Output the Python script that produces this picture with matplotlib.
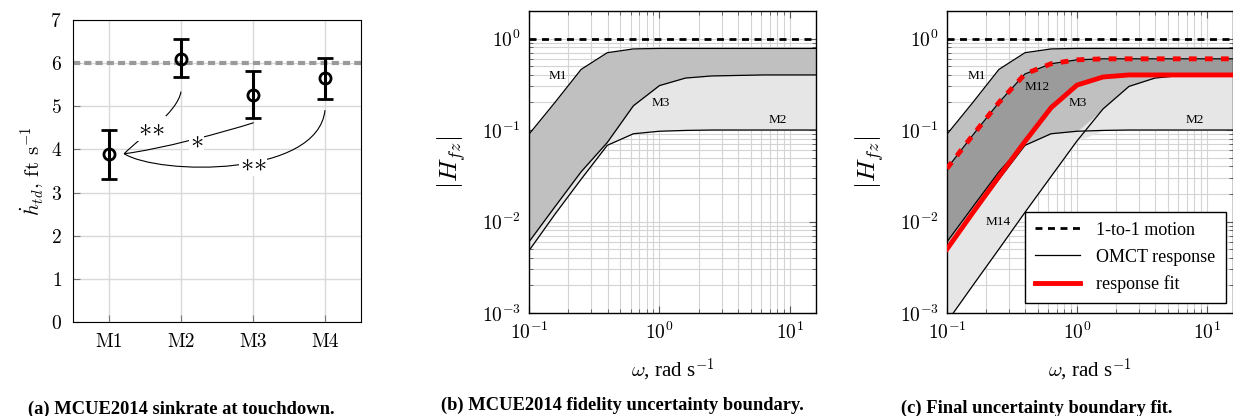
import matplotlib
matplotlib.use('Agg')
import matplotlib.pyplot as plt
import numpy as np
from matplotlib.path import Path
from matplotlib.patches import PathPatch
from matplotlib.ticker import NullFormatter, LogLocator

plt.rcParams['font.family'] = 'serif'
plt.rcParams['font.serif'] = ['cmr10']
plt.rcParams['mathtext.fontset'] = 'cm'
plt.rcParams['axes.formatter.use_mathtext'] = True

# (a) sink rate at touchdown
manoeuvres = ['M1', 'M2', 'M3', 'M4']
sink_mean = [3.9, 6.1, 5.27, 5.65]
sink_lo = [3.32, 5.67, 4.72, 5.17]
sink_hi = [4.46, 6.55, 5.81, 6.12]
sink_limit = 6.0
sig_marks = ['${\\ast}{\\ast}$', '${\\ast}$', '${\\ast}{\\ast}$']

# (b), (c) frequency responses |H_fz|
omega = [0.1, 0.158, 0.251, 0.398, 0.631, 1.0, 1.585, 2.512, 3.981, 6.31, 10.0, 15.85]
m1 = [0.09, 0.2, 0.46, 0.70, 0.77, 0.78, 0.78, 0.78, 0.78, 0.78, 0.78, 0.78]
m2 = [0.0048, 0.012, 0.029, 0.068, 0.091, 0.097, 0.099, 0.1, 0.1, 0.1, 0.1, 0.1]
m3 = [0.006, 0.0145, 0.035, 0.073, 0.184, 0.306, 0.37, 0.39, 0.395, 0.4, 0.4, 0.4]
m12 = [0.038, 0.088, 0.2, 0.41, 0.53, 0.585, 0.6, 0.6, 0.6, 0.6, 0.6, 0.6]
m14 = [0.0008, 0.002, 0.005, 0.0126, 0.031, 0.076, 0.17, 0.30, 0.37, 0.395, 0.4, 0.4]
fit = [0.005, 0.0125, 0.031, 0.075, 0.175, 0.31, 0.38, 0.40, 0.40, 0.40, 0.40, 0.40]
one_to_one = 1.0

W, H = 1233, 416
fig = plt.figure(figsize=(W / 100, H / 100), dpi=100)

LIGHT, MED, DARK = '#e6e6e6', '#c0c0c0', '#9b9b9b'
cap_kw = dict(ha='center', va='center', fontsize=13.3, fontweight='bold', family='Liberation Serif')
lab_kw = dict(ha='center', va='center', fontsize=9.5, family='Liberation Serif')

# ---------- panel a ----------
ax = fig.add_axes([73 / W, (H - 322) / H, 288 / W, 302 / H])
x = np.arange(1, 5)
mean = np.array(sink_mean)
yerr = [mean - np.array(sink_lo), np.array(sink_hi) - mean]
ax.axhline(sink_limit, color='#9a9a9a', lw=3, dashes=(1.7, 1.0), zorder=2)
ax.errorbar(x, mean, yerr=yerr, fmt='o', mfc='none', mec='k', mew=2, ms=8,
            ecolor='k', elinewidth=2.2, capsize=6, capthick=2.2, zorder=4)
ax.set_xlim(0.5, 4.5)
ax.set_ylim(0, 7)
ax.set_xticks(x, manoeuvres)
ax.set_yticks(range(8))
ax.grid(color='#d9d9d9', lw=1)
ax.set_axisbelow(True)
ax.tick_params(direction='in', length=5, color='#777777', labelsize=14, pad=8)
ax.set_ylabel(r'$\dot{h}_{td}$, ft s$^{-1}$', fontsize=15, labelpad=3)

# significance curves from M1 to the others
start = (1.21, 3.9)
curves = [
    [(1.45, 4.3), (1.95, 4.85), (2.0, 5.34)],
    [(1.7, 4.0), (2.6, 4.4), (3.01, 4.62)],
    [(1.7, 3.4), (3.9, 3.35), (4.0, 4.91)],
]
mark_pos = [(1.59, 4.49), (2.22, 4.2), (3.0, 3.68)]
for ctrl, mark, pos in zip(curves, sig_marks, mark_pos):
    p = Path([start] + ctrl, [Path.MOVETO, Path.CURVE4, Path.CURVE4, Path.CURVE4])
    ax.add_patch(PathPatch(p, fc='none', ec='k', lw=0.8, zorder=3))
    ax.text(pos[0], pos[1], mark, ha='center', va='center', fontsize=19, zorder=3,
            bbox=dict(fc='white', ec='none', pad=0.5))
fig.text(181 / W, 1 - 409 / H, '(a) MCUE2014 sinkrate at touchdown.', **cap_kw)


def style_log(ax):
    ax.set_xscale('log')
    ax.set_yscale('log')
    ax.set_xlim(0.1, 15.85)
    ax.set_ylim(1e-3, 2)
    ax.xaxis.set_major_locator(LogLocator(base=10, numticks=10))
    ax.yaxis.set_major_locator(LogLocator(base=10, numticks=10))
    ax.xaxis.set_minor_formatter(NullFormatter())
    ax.yaxis.set_minor_formatter(NullFormatter())
    ax.grid(which='both', color='#d4d4d4', lw=0.8)
    ax.set_axisbelow(True)
    ax.tick_params(which='both', direction='in', top=True, right=True, color='#555555')
    ax.tick_params(which='major', length=5, labelsize=14, pad=6)
    ax.tick_params(which='minor', length=3)
    ax.set_xlabel(r'$\omega$, rad s$^{-1}$', fontsize=15, family='Liberation Serif', labelpad=10)
    ax.set_ylabel(r'$|H_{fz}|$', fontsize=18.5, labelpad=10)
    for s in ax.spines.values():
        s.set_linewidth(1.0)


w = np.array(omega)
a1, a2, a3 = np.array(m1), np.array(m2), np.array(m3)
a12, a14, af = np.array(m12), np.array(m14), np.array(fit)

# ---------- panel b ----------
ax = fig.add_axes([529 / W, (H - 313) / H, 287 / W, 302 / H])
style_log(ax)
ax.fill_between(w, np.minimum(a2, a3), a1, color=LIGHT, lw=0, zorder=1)
ax.fill_between(w, a3, a1, color=MED, lw=0, zorder=1)
for c in (a1, a2, a3):
    ax.plot(w, c, color='k', lw=0.9, zorder=3)
ax.axhline(one_to_one, color='k', lw=2, dashes=(2.5, 2), zorder=4)
ax.text(0.167, 0.385, 'M1', **lab_kw)
ax.text(1.02, 0.195, 'M3', **lab_kw)
ax.text(8.1, 0.13, 'M2', **lab_kw)
fig.text(622 / W, 1 - 405 / H, '(b) MCUE2014 fidelity uncertainty boundary.', **cap_kw)

# ---------- panel c ----------
ax = fig.add_axes([947 / W, (H - 313) / H, 286 / W, 302 / H])
style_log(ax)
low = np.minimum(a2, a14)
ax.fill_between(w, low, a1, color=LIGHT, lw=0, zorder=1)
ax.fill_between(w, a3, a1, color=MED, lw=0, zorder=1)
upper_low = np.maximum(a2, a14)
ax.fill_between(w, upper_low, a3, where=upper_low < a3, interpolate=True, color=MED, lw=0, zorder=1)
ax.fill_between(w, a3, a12, color=DARK, lw=0, zorder=1)
h_omct, = ax.plot(w, a1, color='k', lw=0.9, zorder=3)
for c in (a2, a3, a12, a14):
    ax.plot(w, c, color='k', lw=0.9, zorder=3)
ax.plot(w, a12, color='red', lw=3.5, dashes=(1.6, 1.7), zorder=4)
h_fit, = ax.plot(w, af, color='red', lw=3.5, zorder=4)
h_one = ax.axhline(one_to_one, color='k', lw=2, dashes=(2.5, 2), zorder=4)
ax.text(0.169, 0.385, 'M1', **lab_kw)
ax.text(0.49, 0.294, 'M12', **lab_kw)
ax.text(1.02, 0.197, 'M3', **lab_kw)
ax.text(8.1, 0.13, 'M2', **lab_kw)
ax.text(0.247, 0.0099, 'M14', **lab_kw)
leg = ax.legend([h_one, h_omct, h_fit], ['1-to-1 motion', 'OMCT response', 'response fit'],
                loc='lower right', bbox_to_anchor=(0.974, 0.032), borderaxespad=0,
                fancybox=False, framealpha=1, edgecolor='k', handlelength=2.5,
                handletextpad=0.9, borderpad=0.55, labelspacing=0.55,
                prop={'family': 'Liberation Serif', 'size': 13})
leg.get_frame().set_linewidth(1.0)
leg.set_zorder(6)
fig.text(1037 / W, 1 - 408 / H, '(c) Final uncertainty boundary fit.', **cap_kw)

fig.savefig('out.png', dpi=100)
